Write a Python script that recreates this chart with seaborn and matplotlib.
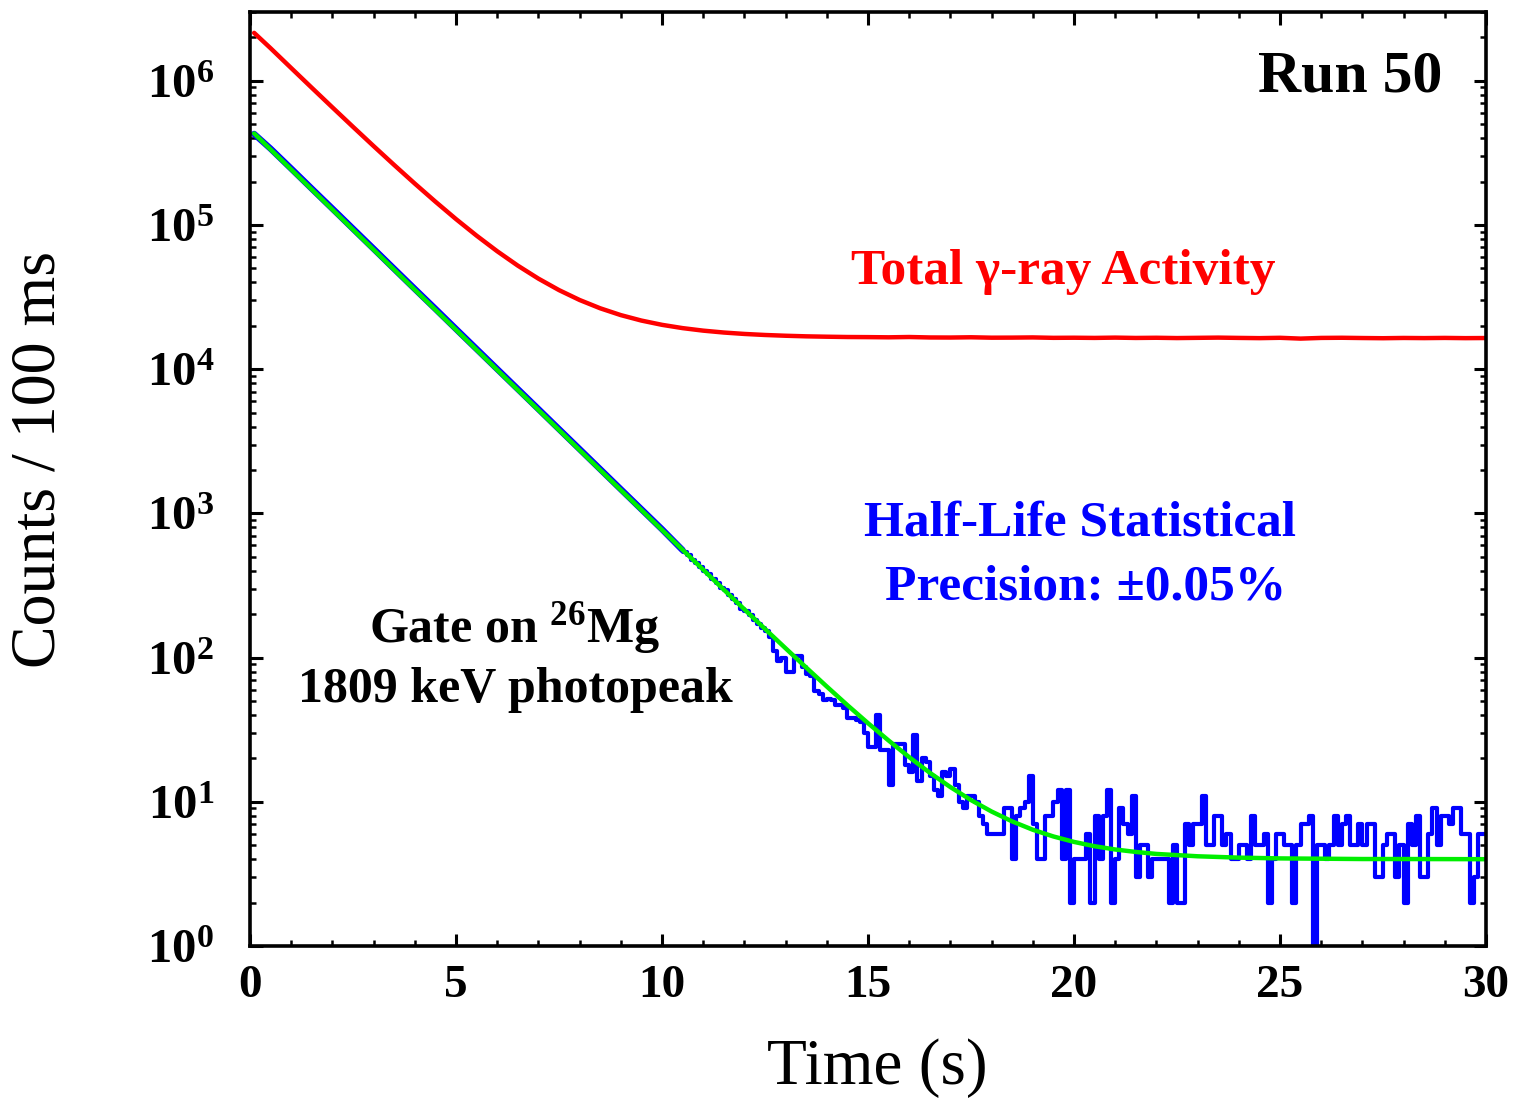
import numpy as np
import pandas as pd
import matplotlib
matplotlib.use("Agg")
import matplotlib.pyplot as plt
import seaborn as sns
from matplotlib.ticker import FixedLocator, LogLocator, MultipleLocator, NullFormatter

# ---------------- data ----------------
# Total gamma-ray activity (red), time in s, counts / 100 ms
red_t = [0.1, 0.5, 1.0, 1.5, 2.0, 2.5, 3.0, 3.5, 4.0, 4.5, 5.0, 5.5, 6.0, 6.5, 7.0,
         7.5, 8.0, 8.5, 9.0, 9.5, 10.0, 10.5, 11.0, 11.5, 12.0, 12.5, 13.0, 13.5,
         14.0, 14.5, 15.0, 15.5, 16.0, 16.5, 17.0, 17.5, 18.0, 18.5, 19.0, 19.5,
         20.0, 20.5, 21.0, 21.5, 22.0, 22.5, 23.0, 23.5, 24.0, 24.5, 25.0, 25.5,
         26.0, 26.5, 27.0, 27.5, 28.0, 28.5, 29.0, 29.5, 30.0]
red_counts = [2150000, 1681500, 1225600, 894400, 654000, 479400, 352600, 260600,
              193700, 145200, 109900, 84350, 65770, 52270, 42480, 35360, 30200,
              26450, 23720, 21740, 20310, 19270, 18510, 17960, 17560, 17270, 17060,
              16900, 16800, 16720, 16690, 16640, 16720, 16600, 16580, 16650, 16540,
              16560, 16610, 16500, 16530, 16480, 16560, 16470, 16520, 16440, 16500,
              16560, 16480, 16420, 16510, 16300, 16480, 16520, 16450, 16400, 16470,
              16430, 16480, 16420, 16450]

# Fit (green)
green_t = [0.1, 0.5, 1.0, 1.5, 2.0, 2.5, 3.0, 3.5, 4.0, 4.5, 5.0, 5.5, 6.0, 6.5, 7.0,
           7.5, 8.0, 8.5, 9.0, 9.5, 10.0, 10.5, 11.0, 11.5, 12.0, 12.5, 13.0, 13.5,
           14.0, 14.5, 15.0, 15.5, 16.0, 16.5, 17.0, 17.5, 18.0, 18.5, 19.0, 19.5,
           20.0, 20.5, 21.0, 21.5, 22.0, 23.0, 24.0, 25.0, 26.0, 27.0, 28.0, 30.0]
green_fit = [431500, 334000, 242560, 176130, 127890, 92860, 67430, 48960, 35550,
             25820, 18750, 13615, 9887, 7180, 5215, 3788, 2751, 1999, 1452, 1056,
             768, 559, 407, 296, 216, 158, 116, 85.3, 63.0, 46.8, 35.1, 26.6, 20.4,
             15.9, 12.65, 10.28, 8.56, 7.31, 6.40, 5.75, 5.27, 4.92, 4.67, 4.49,
             4.35, 4.19, 4.10, 4.05, 4.03, 4.01, 4.01, 4.00]

# 26Mg 1809 keV gated data (blue): early part (smooth, under the fit)
blue_t = [0.1, 0.5, 1.0, 1.5, 2.0, 2.5, 3.0, 3.5, 4.0, 4.5, 5.0, 5.5, 6.0, 6.5, 7.0,
          7.5, 8.0, 8.5, 9.0, 9.5, 10.0, 10.5]
blue_counts = [428000, 338000, 246000, 178500, 129800, 94200, 68400, 49600, 36000,
               26200, 19000, 13800, 10020, 7280, 5290, 3840, 2790, 2025, 1470, 1068,
               776, 556]

# gated data, 100 ms bins from 10.5 s to 30 s
tail_start = 10.5
bin_width = 0.1
tail_counts = [
    540, 515, 478, 450, 425, 398, 380, 352, 330, 305,      # 10.5 - 11.4
    292, 272, 255, 240, 218, 212, 196, 182, 170, 160,      # 11.5 - 12.4
    152, 140, 111, 95, 100, 79, 79, 103, 103, 86,          # 12.5 - 13.4
    77, 75, 59, 56, 51, 52, 51, 47, 47, 45,                # 13.5 - 14.4
    38, 38, 37, 36, 30, 24, 24, 40, 23, 23,                # 14.5 - 15.4
    13, 25, 25, 25, 18, 16, 29, 14, 20, 19,                # 15.5 - 16.4
    15, 12, 11, 16, 15, 17, 13, 10, 9, 11,                 # 16.5 - 17.4
    11, 10, 8, 7, 6, 6, 6, 6, 9, 9,                        # 17.5 - 18.4
    4, 8, 9, 10, 15, 7, 4, 4, 8, 8,                        # 18.5 - 19.4
    10, 12, 4, 12, 2, 4, 4, 4, 6, 2,                       # 19.5 - 20.4
    8, 4, 8, 12, 2, 4, 9, 7, 6, 11,                        # 20.5 - 21.4
    3, 5, 5, 3, 4, 4, 4, 4, 2, 5,                          # 21.5 - 22.4
    2, 2, 7, 5, 7, 7, 11, 5, 5, 8,                         # 22.5 - 23.4
    8, 5, 6, 4, 4, 5, 5, 4, 8, 5,                          # 23.5 - 24.4
    5, 6, 2, 4, 6, 6, 5, 5, 2, 5,                          # 24.5 - 25.4
    7, 7, 8, 0, 5, 5, 4, 5, 8, 5,                          # 25.5 - 26.4
    7, 8, 5, 5, 7, 5, 7, 7, 3, 3,                          # 26.5 - 27.4
    5, 6, 6, 3, 5, 2, 7, 5, 8, 3,                          # 27.5 - 28.4
    3, 6, 9, 5, 8, 8, 7, 9, 9, 6,                          # 28.5 - 29.4
    6, 2, 3, 6, 6,                                         # 29.5 - 29.9
]

x_ticks = [0, 5, 10, 15, 20, 25, 30]
y_decades = [0, 1, 2, 3, 4, 5, 6]

# ---------------- style ----------------
sns.set_style("ticks")
plt.rcParams["font.family"] = ["Liberation Serif", "DejaVu Serif"]
plt.rcParams["mathtext.fontset"] = "custom"
plt.rcParams["mathtext.rm"] = "Liberation Serif"
plt.rcParams["mathtext.bf"] = "Liberation Serif:bold"
plt.rcParams["mathtext.it"] = "Liberation Serif:italic"
plt.rcParams["text.color"] = "black"
plt.rcParams["axes.labelcolor"] = "black"
plt.rcParams["xtick.color"] = "black"
plt.rcParams["ytick.color"] = "black"

W, H = 1516, 1101
fig = plt.figure(figsize=(W / 100, H / 100), dpi=100)
ax = fig.add_axes([250 / W, 1 - 946 / H, (1486 - 250) / W, (946 - 12) / H])

RED, BLUE, GREEN = "#ff0000", "#0000ff", "#00ee00"

# red total activity
sns.lineplot(x=red_t, y=red_counts, color=RED, lw=3.2, ax=ax, sort=False)

# blue gated data
sns.lineplot(x=blue_t, y=blue_counts, color=BLUE, lw=4.6, ax=ax, sort=False)
edges = tail_start + bin_width * np.arange(len(tail_counts) + 1)
step_y = list(tail_counts) + [tail_counts[-1]]
ax.plot(edges, step_y, drawstyle="steps-post", color=BLUE, lw=3.0)

# green fit
sns.lineplot(x=green_t, y=green_fit, color=GREEN, lw=3.2, ax=ax, sort=False)

ax.set_yscale("log", nonpositive="clip")
ax.set_xlim(0, 30)
ax.set_ylim(1, 3.0e6)

# ticks
ax.xaxis.set_major_locator(FixedLocator(x_ticks))
ax.xaxis.set_minor_locator(MultipleLocator(1))
ax.set_xticklabels([str(v) for v in x_ticks], fontsize=34, fontweight="bold")
ax.yaxis.set_major_locator(FixedLocator([10.0 ** d for d in y_decades]))
ax.yaxis.set_minor_locator(LogLocator(base=10, subs=np.arange(2, 10)))
ax.yaxis.set_minor_formatter(NullFormatter())
ax.set_yticklabels([r"$\mathbf{10^{%d}}$" % d for d in y_decades], fontsize=35)

ax.tick_params(which="both", direction="in", top=True, right=True, colors="black")
ax.tick_params(which="major", length=9, width=2.2)
ax.tick_params(which="minor", length=4.5, width=1.8)
ax.tick_params(axis="y", which="major", pad=26)
ax.tick_params(axis="x", which="major", pad=14)
for s in ax.spines.values():
    s.set_linewidth(2.6)
    s.set_color("black")
    s.set_visible(True)

ax.set_xlabel("")
ax.set_ylabel("")

# axis titles
fig.text(877 / W, 1 - 1068 / H, "Time (s)",
         ha="center", va="center", fontsize=47, color="black")
fig.text(40 / W, 1 - 460 / H, "Counts / 100 ms", rotation=90,
         ha="center", va="center", fontsize=46, color="black")

# annotations
fig.text(1442 / W, 1 - 77 / H, "Run 50", ha="right", va="center",
         fontsize=43, fontweight="bold", color="black")
fig.text(1063 / W, 1 - 272 / H, "Total γ-ray Activity", ha="center", va="center",
         fontsize=37, fontweight="bold", color=RED)
fig.text(1080 / W, 1 - 523 / H, "Half-Life Statistical", ha="center", va="center",
         fontsize=37, fontweight="bold", color=BLUE)
fig.text(1086 / W, 1 - 587 / H, "Precision: ±0.05%", ha="center", va="center",
         fontsize=37, fontweight="bold", color=BLUE)
fig.text(514 / W, 1 - 628 / H, r"Gate on $^{\mathbf{26}}$Mg", ha="center", va="center",
         fontsize=36, fontweight="bold", color="black")
fig.text(515 / W, 1 - 690 / H, "1809 keV photopeak", ha="center", va="center",
         fontsize=36, fontweight="bold", color="black")

fig.savefig("out.png", dpi=100, facecolor="white")
